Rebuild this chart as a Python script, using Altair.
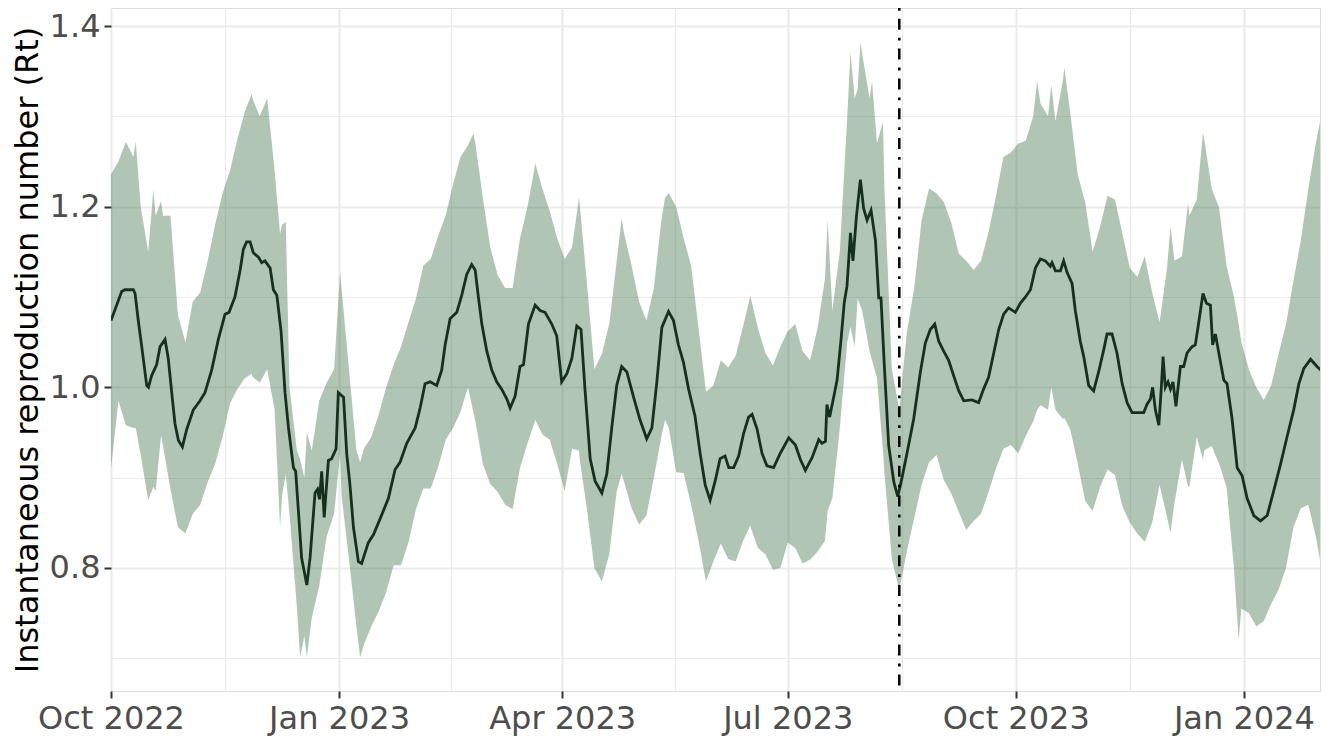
import altair as alt
import pandas as pd

START = pd.Timestamp("2022-10-01")

# Ribbon (95% interval) sampled every 3 days from 1 Oct 2022
grid_days = list(range(0, 487, 3)) + [490]
upper = [
    1.236, 1.25, 1.272, 1.255, 1.2, 1.15, 1.19, 1.19, 1.19, 1.08,
    1.05, 1.095, 1.105, 1.14, 1.18, 1.215, 1.24, 1.275, 1.305, 1.32,
    1.3, 1.32, 1.24, 1.18, 1.0, 0.93, 0.9, 0.93, 0.985, 1.005,
    1.02, 1.11, 1.02, 0.93, 0.932, 0.945, 0.97, 1.0, 1.025, 1.045,
    1.072, 1.098, 1.135, 1.142, 1.168, 1.19, 1.225, 1.255, 1.268, 1.27,
    1.21, 1.155, 1.124, 1.11, 1.11, 1.165, 1.2, 1.245, 1.22, 1.195,
    1.165, 1.142, 1.155, 1.205, 1.115, 1.02, 1.037, 1.07, 1.14, 1.17,
    1.135, 1.095, 1.074, 1.11, 1.185, 1.215, 1.2, 1.165, 1.135, 1.066,
    0.995, 1.002, 1.03, 1.022, 1.035, 1.068, 1.1, 1.065, 1.038, 1.024,
    1.045, 1.062, 1.07, 1.04, 1.03, 1.065, 1.12, 1.085, 1.15, 1.3,
    1.32, 1.37, 1.32, 1.27, 1.22, 1.02, 0.975, 1.06, 1.11, 1.185,
    1.22, 1.215, 1.205, 1.182, 1.148, 1.14, 1.13, 1.14, 1.172, 1.212,
    1.255, 1.26, 1.27, 1.273, 1.3, 1.314, 1.3, 1.295, 1.34, 1.303,
    1.235, 1.205, 1.15, 1.178, 1.212, 1.208, 1.17, 1.132, 1.122, 1.145,
    1.105, 1.072, 1.132, 1.14, 1.145, 1.19, 1.208, 1.275, 1.22, 1.199,
    1.135, 1.1, 1.05, 1.02, 1.0, 0.986, 1.002, 1.037, 1.07, 1.118,
    1.163, 1.22, 1.27, 1.325,
]
lower = [
    0.91, 0.985, 0.958, 0.955, 0.925, 0.875, 0.885, 0.935, 0.887, 0.845,
    0.838, 0.86, 0.87, 0.895, 0.915, 0.945, 0.982, 0.998, 1.01, 1.012,
    1.005, 1.02, 0.975, 0.88, 0.86, 0.756, 0.725, 0.745, 0.78, 0.835,
    0.86, 0.88, 0.81, 0.735, 0.715, 0.735, 0.752, 0.773, 0.803, 0.803,
    0.828, 0.865, 0.888, 0.888, 0.912, 0.942, 0.955, 0.973, 1.0, 0.962,
    0.915, 0.893, 0.884, 0.87, 0.865, 0.911, 0.938, 0.962, 0.948, 0.942,
    0.915, 0.885, 0.932, 0.922, 0.865, 0.8, 0.785, 0.815, 0.885, 0.895,
    0.866, 0.848, 0.858, 0.9, 0.945, 0.955, 0.906, 0.905, 0.87, 0.83,
    0.785, 0.807, 0.827, 0.81, 0.807, 0.83, 0.845, 0.822, 0.815, 0.798,
    0.8, 0.828, 0.822, 0.805, 0.809, 0.818, 0.83, 0.877, 0.955, 1.05,
    1.045, 1.085, 1.04, 1.01, 0.905, 0.81, 0.775, 0.818, 0.855, 0.892,
    0.917, 0.925, 0.897, 0.882, 0.862, 0.842, 0.852, 0.86, 0.884, 0.91,
    0.932, 0.936, 0.927, 0.946, 0.962, 0.98, 0.975, 0.975, 0.965, 0.953,
    0.915, 0.874, 0.863, 0.89, 0.909, 0.903, 0.868, 0.85, 0.838, 0.829,
    0.85, 0.892, 0.856, 0.872, 0.92, 0.89, 0.945, 0.93, 0.935, 0.915,
    0.89, 0.8, 0.755, 0.75, 0.735, 0.741, 0.76, 0.776, 0.8, 0.845,
    0.866, 0.87, 0.835, 0.775,
]

# Extra ribbon readings at the sharp spikes (day, upper, lower)
spike_days = [10, 17.1, 20.2, 56.8, 68.2, 70.5, 76.3, 79, 92.4, 100.5,
              146.2, 171.1, 188.8, 206, 223.5, 257.9, 289.1, 298.3, 301.2, 302.3,
              307, 311.4, 373.6, 379.3, 384.6, 427.4, 434.5, 440.5, 454.9]
spike_upper = [1.272, 1.219, 1.206, 1.325, 1.17, 1.183, 0.92, 0.95, 1.127, 0.917,
               1.281, 1.248, 1.21, 1.187, 1.21, 1.101, 1.185, 1.371, 1.33, 1.382,
               1.339, 1.294, 1.339, 1.335, 1.354, 1.178, 1.204, 1.282, 1.07]
spike_lower = [0.955, 0.89, 0.947, 1.015, 0.845, 0.904, 0.701, 0.701, 0.926, 0.701,
               0.972, 0.964, 0.93, 0.904, 0.964, 0.847, 0.863, 1.067, 1.099, 1.09,
               1.03, 0.93, 0.975, 1.0, 0.966, 0.839, 0.89, 0.92, 0.72]

# Median Rt (days since 1 Oct 2022, value)
med_days = [
    0, 4.3, 5.6, 9, 9.7, 11, 12.4, 14.4, 15.1, 16.4,
    18.4, 19.8, 21.8, 23.1, 24.5, 25.8, 27.2, 28.8, 30.5, 33.2,
    35.9, 37.9, 40.6, 43.3, 46, 47.6, 50, 52.1, 53.4, 54.7,
    56.1, 57.4, 59.5, 60.8, 62.1, 64.2, 65.5, 66.9, 68.6, 70.2,
    71.6, 73.6, 74.5, 76.9, 79,
    80.3, 82.3, 83.3, 84.1, 85, 86, 87.7, 89, 90.8, 91.7,
    93.8, 95.1, 96.4, 97.8, 99.8, 101.1, 103.8, 105.9, 108.5, 111.9,
    114.6, 116.6, 119.3, 122.7, 124.7, 126.7, 128.7, 131.4, 133.4, 134.8,
    136.8, 139.5, 141.5, 143.5, 145.5, 146.9, 148.2, 149.6, 151.6, 153.6,
    155.6, 157.6, 159.7, 161, 163,
    165, 166.4, 168.4, 171.1, 173.1, 175.1, 177.8, 179.8, 181.8, 183.9,
    185.9, 187.9, 189.6, 191.2, 193.3, 195.3, 198, 200, 202, 204,
    206, 208.1, 210.8, 213.4, 216.1, 218.2, 220.2, 222.2, 224.9, 226.9,
    228.9, 230.9, 233, 235.6, 237.7, 239.7, 241.7, 243.7, 245.7, 247.7,
    249.2, 251.2, 253.2, 255.2, 257.2, 258.6, 260.6, 262.6, 264.6, 267.3,
    270, 273.4, 276.1, 278.1, 280.1, 282.8, 285.5, 286.8, 288.2, 288.8,
    289.9, 291.3, 292.9, 294.5, 295.8, 296.9, 298.3, 299.3, 300.7, 302.3,
    303.6, 305, 306.6, 308.4, 309.7, 310.6, 312, 313.7, 315.8, 317.4,
    319.1, 321.1, 323.8, 326.5, 328.5,
    330.5, 332.3, 333.9, 335.9, 337.9, 339.9, 342, 344, 347.3, 350,
    352, 354, 356.1, 358.1, 360.1, 362.1, 364.8, 366.8, 368.9, 370.9,
    372.9, 374.9, 376.9, 378.9, 379.6, 381, 383, 384.3, 385.7, 387.7,
    389, 391, 392.4, 394.4, 396.4, 398.4, 400.5, 401.8, 403.8, 405.8,
    407.9, 409.9, 411.9,
    413.9, 416.6, 417.9, 419.3, 420.2, 421.3, 422.7, 423.7, 424.4, 425.3,
    426.4, 427.4, 428.4, 429.6, 431.4, 432.7, 434.1, 436.1, 437.4, 438.8,
    440.5, 441.9, 443.5, 444.4, 445.5, 446.9, 448.9, 450.2, 452.2, 454.3,
    456.3, 458.3, 461, 463.7, 466.4, 469, 471.8, 474.4, 477.1, 479.2,
    481.2, 483.9, 486.5, 490,
]
med_vals = [
    1.074, 1.106, 1.108, 1.108, 1.104, 1.074, 1.045, 1.002, 1.0, 1.013,
    1.025, 1.045, 1.053, 1.032, 0.994, 0.96, 0.941, 0.934, 0.953, 0.975,
    0.985, 0.994, 1.019, 1.053, 1.081, 1.083, 1.1, 1.13, 1.153, 1.161,
    1.161, 1.149, 1.144, 1.138, 1.14, 1.132, 1.108, 1.102, 1.062, 0.994,
    0.955, 0.911, 0.907, 0.811, 0.781,
    0.811, 0.883, 0.887, 0.876, 0.907, 0.856, 0.919, 0.921, 0.932, 0.994,
    0.989, 0.926, 0.892, 0.845, 0.807, 0.805, 0.828, 0.837, 0.854, 0.877,
    0.909, 0.917, 0.938, 0.955, 0.977, 1.004, 1.006, 1.002, 1.019, 1.047,
    1.076, 1.083, 1.102, 1.125, 1.136, 1.13, 1.1, 1.07, 1.04, 1.019,
    1.006, 0.998, 0.987, 0.977, 0.99,
    1.023, 1.025, 1.07, 1.091, 1.085, 1.083, 1.07, 1.057, 1.006, 1.015,
    1.032, 1.068, 1.064, 0.998, 0.921, 0.896, 0.883, 0.904, 0.955, 1.002,
    1.023, 1.017, 0.989, 0.964, 0.943, 0.955, 1.006, 1.066, 1.084, 1.074,
    1.047, 1.028, 0.998, 0.968, 0.926, 0.892, 0.875, 0.896, 0.921, 0.924,
    0.911, 0.911, 0.924, 0.949, 0.967, 0.97, 0.954, 0.927, 0.913, 0.911,
    0.927, 0.944, 0.936, 0.92, 0.908, 0.922, 0.942, 0.938, 0.94, 0.981,
    0.967, 0.986, 1.008, 1.053, 1.094, 1.112, 1.171, 1.14, 1.189, 1.23,
    1.198, 1.185, 1.196, 1.162, 1.099, 1.099, 1.022, 0.936, 0.895, 0.879,
    0.9, 0.927, 0.965, 1.017, 1.049,
    1.064, 1.07, 1.051, 1.04, 1.03, 1.013, 0.996, 0.985, 0.986, 0.983,
    0.998, 1.011, 1.038, 1.064, 1.081, 1.088, 1.083, 1.093, 1.1, 1.108,
    1.132, 1.142, 1.14, 1.134, 1.138, 1.129, 1.129, 1.14, 1.127, 1.115,
    1.085, 1.051, 1.034, 1.002, 0.996, 1.017, 1.042, 1.059, 1.059, 1.038,
    1.004, 0.983, 0.972,
    0.972, 0.972, 0.981, 0.987, 1.0, 0.975, 0.958, 1.0, 1.034, 1.0,
    1.006, 0.998, 1.006, 0.979, 1.023, 1.023, 1.038, 1.045, 1.047, 1.072,
    1.104, 1.093, 1.091, 1.047, 1.059, 1.038, 1.008, 1.004, 0.966, 0.911,
    0.902, 0.877, 0.858, 0.852, 0.858, 0.885, 0.915, 0.945, 0.975, 1.004,
    1.021, 1.031, 1.023, 1.014,
]

vline_date = ["2023-08-15T00:00:00Z"]
y_ticks = [0.7, 0.8, 0.9, 1.0, 1.1, 1.2, 1.3, 1.4]
title_y = "Instantaneous reproduction number (Rt)"


def to_iso(days):
    return [(START + pd.to_timedelta(d, unit="D")).strftime("%Y-%m-%dT%H:%M:%SZ") for d in days]


rib = pd.DataFrame({
    "day": grid_days + spike_days,
    "lower": lower + spike_lower,
    "upper": upper + spike_upper,
}).sort_values("day")
rib["date"] = to_iso(rib["day"])
ribbon_df = rib[["date", "lower", "upper"]]
line_df = pd.DataFrame({"date": to_iso(med_days), "rt": med_vals})
vline_df = pd.DataFrame({"date": vline_date})


def dt(y, m, d, h=0):
    return alt.DateTime(year=y, month=m, date=d, hours=h, utc=True)


x_values = [
    dt(2022, 10, 1), dt(2022, 11, 16), dt(2023, 1, 1), dt(2023, 2, 15),
    dt(2023, 4, 1), dt(2023, 5, 16, 12), dt(2023, 7, 1), dt(2023, 8, 16),
    dt(2023, 10, 1), dt(2023, 11, 16), dt(2024, 1, 1),
]

GRID = "#EBEBEB"
LABEL = "#4D4D4D"
FONT = "DejaVu Sans"
FS = 32

x_major = "utcdate(datum.value) == 1"
y_major = "round(datum.value * 10) % 2 == 0"

xscale = alt.Scale(type="utc", domain=[dt(2022, 10, 1), dt(2024, 1, 31, 17)])
yscale = alt.Scale(domain=[0.6637, 1.42], nice=False, zero=False)

xaxis = alt.Axis(
    title=None,
    values=x_values,
    labelExpr=f"{x_major} ? utcFormat(datum.value, '%b %Y') : ''",
    labelFlush=False,
    labelOverlap=False,
    labelFontSize=FS,
    labelColor=LABEL,
    labelFont=FONT,
    labelPadding=5,
    tickSize=7,
    tickWidth=2,
    tickColor="#333333",
    tickOpacity={"condition": {"test": x_major, "value": 1}, "value": 0},
    grid=True,
    gridColor=GRID,
    gridWidth={"condition": {"test": x_major, "value": 2.2}, "value": 1.2},
    domain=False,
)
yaxis = alt.Axis(
    title=title_y,
    values=y_ticks,
    labelExpr=f"{y_major} ? format(datum.value, '.1f') : ''",
    labelFontSize=FS,
    labelColor=LABEL,
    labelFont=FONT,
    labelPadding=4,
    labelOverlap=False,
    tickSize=7,
    tickWidth=2,
    tickColor="#333333",
    tickOpacity={"condition": {"test": y_major, "value": 1}, "value": 0},
    grid=True,
    gridColor=GRID,
    gridWidth={"condition": {"test": y_major, "value": 2.2}, "value": 1.2},
    domain=False,
    titleFont=FONT,
    titleFontSize=FS,
    titleFontWeight="normal",
    titleColor="#000000",
    titlePadding=5,
)

ribbon = alt.Chart(ribbon_df).mark_area(
    color="#3D6E47", opacity=0.4, interpolate="linear", clip=True
).encode(
    x=alt.X("date:T", scale=xscale, axis=xaxis),
    y=alt.Y("lower:Q", scale=yscale, axis=yaxis),
    y2="upper:Q",
)

line = alt.Chart(line_df).mark_line(
    color="#17301D", strokeWidth=2.8, clip=True
).encode(
    x=alt.X("date:T", scale=xscale),
    y=alt.Y("rt:Q", scale=yscale),
)

vline = alt.Chart(vline_df).mark_rule(
    color="#000000", strokeWidth=2.5, strokeDash=[2.8, 8, 11, 8]
).encode(
    x=alt.X("date:T", scale=xscale),
)

chart = (
    alt.layer(ribbon, line, vline)
    .properties(
        width=1209,
        height=683,
        autosize=alt.AutoSizeParams(type="none"),
        padding={"left": 103, "top": 0, "right": 1, "bottom": 46},
    )
    .configure_view(stroke="#333333", strokeWidth=1.5)
    .configure(font=FONT)
)

chart.save("out.html", embed_options={"renderer": "svg", "actions": False})
